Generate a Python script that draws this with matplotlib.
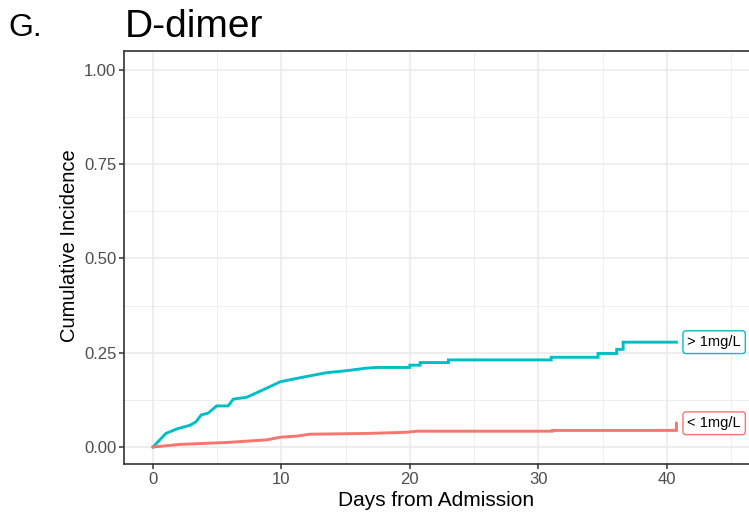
import matplotlib
matplotlib.use('Agg')
import matplotlib.pyplot as plt
from matplotlib.ticker import MultipleLocator

plt.rcParams['font.family'] = ['Liberation Sans', 'DejaVu Sans']

# cumulative incidence curves (repeated days = vertical steps)
high_days = [0, 1.0, 1.85, 2.9, 3.35, 3.75, 4.3, 4.95, 5.85, 6.25, 7.3, 8.85,
             9.9, 10.9, 12.1, 13.5, 15.1, 16.6, 17.4, 20.0, 20.0, 20.8, 20.8,
             23.0, 23.0, 31.0, 31.0, 34.65, 34.65, 36.1, 36.1, 36.6, 36.6, 40.75]
high_inc = [0, 0.036, 0.048, 0.058, 0.067, 0.085, 0.09, 0.109, 0.109, 0.127,
            0.132, 0.156, 0.173, 0.180, 0.188, 0.197, 0.2025, 0.209, 0.211,
            0.211, 0.217, 0.217, 0.224, 0.224, 0.231, 0.231, 0.238, 0.238,
            0.248, 0.248, 0.259, 0.259, 0.278, 0.278]
low_days = [0, 2.1, 5.7, 8.85, 9.9, 11.2, 12.2, 16.6, 19.7, 20.5, 31.1, 31.1,
            40.75, 40.75]
low_inc = [0, 0.007, 0.012, 0.019, 0.026, 0.029, 0.034, 0.036, 0.039, 0.042,
           0.042, 0.044, 0.044, 0.063]

groups = ['> 1mg/L', '< 1mg/L']
colors = ['#00BFC4', '#F8766D']

fig = plt.figure(figsize=(7.49, 5.28), dpi=100)
ax = fig.add_axes([124 / 749, 64 / 528, 1 - 124 / 749, (464 - 51) / 528])

ax.plot(high_days, high_inc, color=colors[0], lw=2.1, zorder=3,
        solid_joinstyle='miter')
ax.plot(low_days, low_inc, color=colors[1], lw=2.1, zorder=3,
        solid_joinstyle='miter')

# end-of-line labels
for inc, lab, col in [(high_inc, groups[0], colors[0]),
                      (low_inc, groups[1], colors[1])]:
    ax.text(41.6, inc[-1], lab, fontsize=10.5, color='black', va='center', ha='left',
            bbox=dict(boxstyle='round,pad=0.3,rounding_size=0.2', fc='white',
                      ec=col, lw=1.0), zorder=4, clip_on=False)

ax.set_xlim(-2.26, 46.4)
ax.set_ylim(-0.045, 1.05)
ax.xaxis.set_major_locator(MultipleLocator(10))
ax.xaxis.set_minor_locator(MultipleLocator(5))
ax.yaxis.set_major_locator(MultipleLocator(0.25))
ax.yaxis.set_minor_locator(MultipleLocator(0.125))
ax.yaxis.set_major_formatter(lambda v, p: f'{v:.2f}')

ax.grid(which='major', color='#EBEBEB', lw=1.2, zorder=0)
ax.grid(which='minor', color='#EBEBEB', lw=0.6, zorder=0)
ax.set_axisbelow(True)
ax.tick_params(which='minor', length=0)
ax.tick_params(which='major', length=3.5, width=1.1, color='#333333',
               labelcolor='#4D4D4D', labelsize=12, pad=2)

for side in ['left', 'top', 'bottom']:
    ax.spines[side].set_color('#333333')
    ax.spines[side].set_linewidth(1.2)
ax.spines['right'].set_visible(False)

ax.set_xlabel('Days from Admission', fontsize=15)
ax.set_ylabel('Cumulative Incidence', fontsize=14.5)
ax.xaxis.set_label_coords(0.5, -0.065, transform=ax.transAxes)
ax.yaxis.set_label_coords(-0.072, 0.528, transform=ax.transAxes)
ax.xaxis.label.set_va('top')

fig.text(8 / 749, 1 - 36 / 528, 'G.', fontsize=23, va='baseline', ha='left')
fig.text(125 / 749, 1 - 37 / 528, 'D-dimer', fontsize=28, va='baseline', ha='left')

fig.savefig('out.png', dpi=100)
